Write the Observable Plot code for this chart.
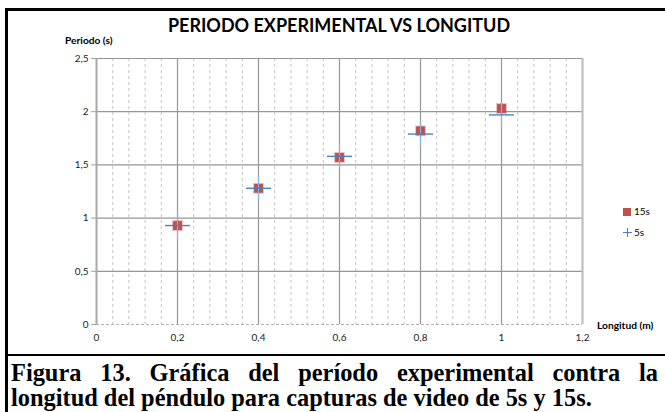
<!DOCTYPE html>
<html>
<head>
<meta charset="utf-8">
<script src="https://cdn.jsdelivr.net/npm/d3@7"></script>
<script src="https://cdn.jsdelivr.net/npm/@observablehq/plot@0.6"></script>
<style>
  html, body { margin: 0; padding: 0; background: #fff; }
  #fig { position: relative; width: 665px; height: 412px; overflow: hidden; background: #fff; }
  .bar { position: absolute; background: #000; }
  #chart { position: absolute; left: 0; top: 0; }
  #title { position: absolute; left: 339px; top: 14px; transform: translateX(-50%); white-space: nowrap;
           font-family: Lato, sans-serif; font-weight: bold; font-size: 18px; color: #000; }
  .lab { position: absolute; white-space: nowrap; font-family: Lato, sans-serif; font-weight: bold; font-size: 10.2px; color: #000; }
  #legend { position: absolute; left: 623px; top: 205px; font-family: Lato, sans-serif; font-size: 10px; color: #000; }
  .cap { position: absolute; left: 11px; width: 647px; font-family: "Liberation Serif", "Times New Roman", serif;
         font-weight: bold; font-size: 24.4px; line-height: 25px; color: #000; white-space: nowrap; }
  #cap1 { top: 360px; text-align: justify; text-align-last: justify; white-space: normal; }
  #cap2 { top: 385px; }
  svg [aria-label^="y-axis"] line, svg [aria-label^="y-axis tick"] path { stroke: #a0a0a0; }
</style>
</head>
<body>
<div id="fig">
  <div id="chart"></div>
  <div class="bar" style="left:5px; top:8px; width:2.5px; height:404px;"></div>
  <div class="bar" style="left:5px; top:8px; width:660px; height:2.5px;"></div>
  <div class="bar" style="left:5px; top:353.5px; width:660px; height:2.5px;"></div>
  <div id="title">PERIODO EXPERIMENTAL VS LONGITUD</div>
  <div class="lab" style="left:65px; top:34px;">Periodo (s)</div>
  <div class="lab" style="left:597px; top:319px;">Longitud (m)</div>
  <div id="legend"></div>
  <div id="cap1" class="cap">Figura 13. Gráfica del período experimental contra la</div>
  <div id="cap2" class="cap">longitud del péndulo para capturas de video de 5s y 15s.</div>
</div>
<script>
// ---- data ----
const longitud = [0.2, 0.4, 0.6, 0.8, 1.0];
const periodo15s = [0.93, 1.28, 1.57, 1.82, 2.03];
const periodo5s = [0.93, 1.28, 1.58, 1.79, 1.97];
const seriesNames = ["15s", "5s"];
const xTicks = [0, 0.2, 0.4, 0.6, 0.8, 1, 1.2];
const yTicks = [0, 0.5, 1, 1.5, 2, 2.5];
const xMinor = d3.range(0, 31).filter(i => i % 5 !== 0).map(i => +(i * 0.04).toFixed(2));

const red = "#c0504d";
const blue = "#4f81bd";
const fmt = d => String(d).replace(".", ",");

const data15 = longitud.map((x, i) => ({x, y: periodo15s[i]}));
const data5 = longitud.map((x, i) => ({x, y: periodo5s[i]}));

const hBar = {draw(ctx, size) { const r = Math.sqrt(size / Math.PI); ctx.moveTo(-r, 0); ctx.lineTo(r, 0); }};
const vBar = {draw(ctx, size) { const r = Math.sqrt(size / Math.PI); ctx.moveTo(0, -r); ctx.lineTo(0, r); }};

const chart = Plot.plot({
  width: 665, height: 353,
  marginLeft: 96, marginRight: 83, marginTop: 58, marginBottom: 29,
  x: {domain: [0, 1.2], ticks: xTicks, tickFormat: fmt, tickSize: 0, tickPadding: 9, label: null},
  y: {domain: [0, 2.5], ticks: yTicks, tickFormat: fmt, tickSize: 5, tickPadding: 3, label: null},
  style: {fontFamily: "Lato, sans-serif", fontSize: "10px", color: "#222", background: "transparent", overflow: "visible"},
  marks: [
    Plot.ruleX(xMinor, {stroke: "#c4c4c4", strokeDasharray: "3,3", strokeWidth: 1}),
    Plot.ruleY([0], {stroke: "#b0b0b0", strokeDasharray: "3,2", strokeWidth: 1}),
    Plot.ruleY(yTicks.filter(d => d > 0), {stroke: "#969696", strokeWidth: 1.2}),
    Plot.ruleX(xTicks.filter(d => d > 0 && d < 1.2), {stroke: "#969696", strokeWidth: 1.2}),
    Plot.ruleX([0], {stroke: "#a8a8a8", strokeWidth: 2}),
    Plot.ruleX([1.2], {stroke: "#c0c0c0", strokeWidth: 2.2}),
    Plot.dot(data15, {x: "x", y: "y", symbol: "square", r: 5, fill: red, stroke: red, strokeOpacity: 0.35, strokeWidth: 2}),
    Plot.dot(data5, {x: "x", y: "y", symbol: vBar, r: 12.5, stroke: "#8eb0dc", strokeWidth: 1.2, fill: "none"}),
    Plot.dot(data5, {x: "x", y: "y", symbol: hBar, r: 12.5, stroke: blue, strokeWidth: 1.4, fill: "none"})
  ]
});
document.getElementById("chart").appendChild(chart);

// legend
const leg = document.getElementById("legend");
leg.innerHTML =
  `<div style="position:absolute;left:0;top:3px;width:8px;height:8px;background:${red}"></div>` +
  `<div style="position:absolute;left:11px;top:0;">${seriesNames[0]}</div>` +
  `<div style="position:absolute;left:0;top:27px;width:9px;height:1px;background:${blue}"></div>` +
  `<div style="position:absolute;left:4px;top:23px;width:1px;height:9px;background:${blue}"></div>` +
  `<div style="position:absolute;left:11px;top:21px;">${seriesNames[1]}</div>`;
</script>
</body>
</html>
